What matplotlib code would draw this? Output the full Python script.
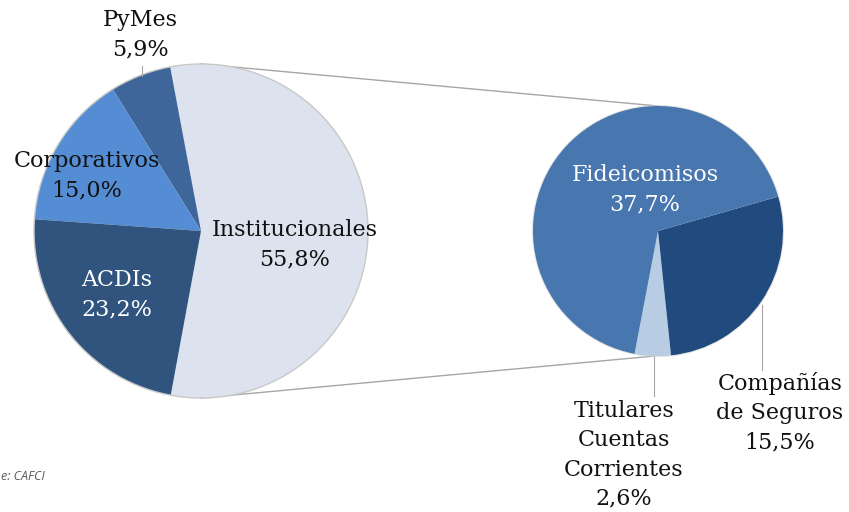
import numpy as np
import matplotlib as mpl
mpl.use('Agg')
import matplotlib.pyplot as plt

# left pie: total by investor type (order counterclockwise from the split slice)
main_labels = ['Institucionales', 'PyMes', 'Corporativos', 'ACDIs']
main_values = [55.8, 5.9, 15.0, 23.2]
main_colors = ['#DCE3EF', '#3E669B', '#548DD4', '#31547F']

# right pie: breakdown of Institucionales
sub_labels = ['Titulares\nCuentas\nCorrientes', 'Compañías\nde Seguros', 'Fideicomisos']
sub_values = [2.6, 15.5, 37.7]
sub_colors = ['#B8CCE4', '#214A7E', '#4876AF']

def pct(v):
    return ('%.1f%%' % v).replace('.', ',')

W, H = 849, 512
fig = plt.figure(figsize=(W/100, H/100), dpi=100)
ax = fig.add_axes([0, 0, 1, 1])

c1, r1 = (201, H-231), 167
c2, r2 = (658, H-231), 125

start1 = -main_values[0]/2*3.6
w1, _ = ax.pie(main_values, colors=main_colors, center=c1, radius=r1,
               startangle=start1, counterclock=True, frame=True,
               wedgeprops=dict(edgecolor='none'))
for w in w1:
    w.set_zorder(3)
ax.add_patch(plt.Circle(c1, r1, fill=False, ec='#C8C8C8', lw=1, zorder=4))

start2 = -100.8
w2, _ = ax.pie(sub_values, colors=sub_colors, center=c2, radius=r2,
               startangle=start2, counterclock=True, frame=True,
               wedgeprops=dict(edgecolor='none'))
for w in w2:
    w.set_zorder(3)
ax.add_patch(plt.Circle(c2, r2, fill=False, ec='#D0D0D0', lw=1.5, alpha=0.6, zorder=2))

ax.set_xlim(0, W)
ax.set_ylim(0, H)
ax.set_aspect('equal')
ax.axis('off')

# connector lines between the two pies (top to top, bottom to bottom)
ax.plot([c1[0], c2[0]], [c1[1] + r1, c2[1] + r2], color='#A6A6A6', lw=1, zorder=1)
ax.plot([c1[0], c2[0] - 3], [c1[1] - r1, c2[1] - r2], color='#A6A6A6', lw=1, zorder=1)

font = dict(family='DejaVu Serif', fontsize=16, linespacing=1.42, ha='center', va='center', zorder=6)

# left pie labels
ax.text(295, H-245, main_labels[0] + '\n' + pct(main_values[0]), color='#111111', **font)
ax.text(140, H-35, main_labels[1] + '\n' + pct(main_values[1]), color='#111111', **font)
ax.text(87, H-176, main_labels[2] + '\n' + pct(main_values[2]), color='#111111', **font)
ax.text(117, H-295, main_labels[3] + '\n' + pct(main_values[3]), color='white', **font)
ax.plot([142, 142], [H-66, H-76], color='#A6A6A6', lw=0.8, zorder=5)

# right pie labels
ax.text(645, H-190, sub_labels[2] + '\n' + pct(sub_values[2]), color='white', **font)
ax.text(780, H-413, sub_labels[1] + '\n' + pct(sub_values[1]), color='#111111', **font)
ax.text(624, H-455, sub_labels[0] + '\n' + pct(sub_values[0]), color='#111111', **font)
ax.plot([762, 762], [H-305, H-370], color='#A6A6A6', lw=0.8, zorder=5)
ax.plot([654, 654], [H-357, H-396], color='#A6A6A6', lw=0.8, zorder=5)

ax.text(1, H-476, 'e: CAFCI', ha='left', va='center', fontsize=9,
        style='italic', color='#595959', family='Open Sans')

fig.savefig('out.png', dpi=100)
plt.close()
